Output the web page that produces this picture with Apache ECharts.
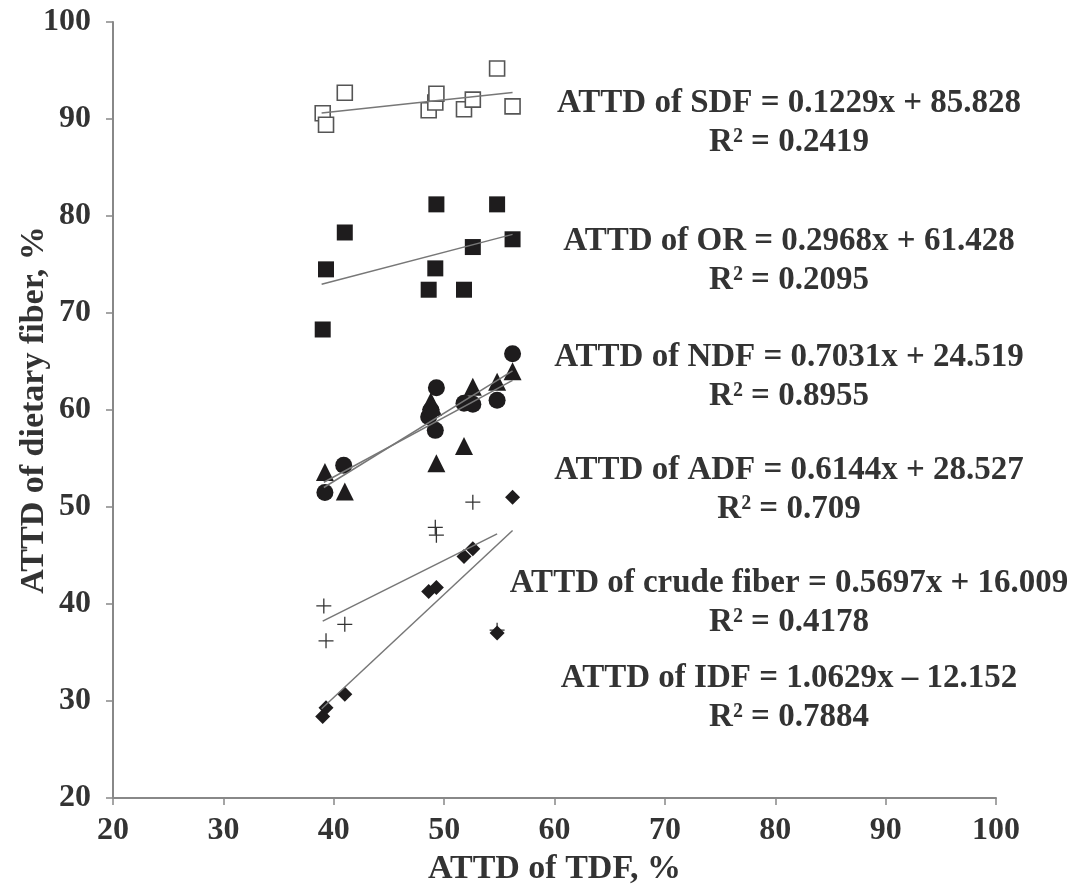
<!DOCTYPE html>
<html>
<head>
<meta charset="utf-8">
<script src="https://cdn.jsdelivr.net/npm/echarts@6/dist/echarts.min.js"></script>
<style>
html,body{margin:0;padding:0;background:#fff;}
#chart{width:1073px;height:892px;}
</style>
</head>
<body>
<div id="chart"></div>
<script>
// ---- data ----
const sdfX = [39.0, 39.3, 41.0, 48.6, 49.2, 49.3, 51.8, 52.6, 54.8, 56.2];
const sdfY = [90.6, 89.4, 92.7, 90.9, 91.7, 92.6, 91.0, 92.0, 95.2, 91.3];
const orX  = [39.0, 39.3, 41.0, 48.6, 49.2, 49.3, 51.8, 52.6, 54.8, 56.2];
const orY  = [68.3, 74.5, 78.3, 72.4, 74.6, 81.2, 72.4, 76.8, 81.2, 77.6];
const ndfX = [39.2, 40.9, 48.6, 48.8, 49.2, 49.3, 51.8, 52.6, 54.8, 56.2];
const ndfY = [51.5, 54.3, 59.3, 60.0, 57.9, 62.3, 60.7, 60.6, 61.0, 65.8];
const adfX = [39.2, 41.0, 48.8, 49.0, 49.3, 51.8, 52.6, 54.8, 56.2];
const adfY = [53.6, 51.6, 60.9, 60.3, 54.5, 56.3, 62.4, 62.9, 64.0];
const cfX  = [39.1, 39.3, 41.0, 49.2, 49.3, 52.6, 54.8];
const cfY  = [39.8, 36.2, 37.9, 47.9, 47.1, 50.5, 37.3];
const idfX = [39.0, 39.3, 41.0, 48.6, 49.3, 51.8, 52.6, 54.8, 56.2];
const idfY = [28.4, 29.3, 30.7, 41.3, 41.7, 44.9, 45.7, 37.0, 51.0];

const seriesNames = ['SDF', 'OR', 'NDF', 'ADF', 'crude fiber', 'IDF'];
const slopes      = [0.1229, 0.2968, 0.7031, 0.6144, 0.5697, 1.0629];
const intercepts  = [85.828, 61.428, 24.519, 28.527, 16.009, -12.152];
const eqTexts = [
  'ATTD of SDF = 0.1229x + 85.828',
  'ATTD of OR = 0.2968x + 61.428',
  'ATTD of NDF = 0.7031x + 24.519',
  'ATTD of ADF = 0.6144x + 28.527',
  'ATTD of crude fiber = 0.5697x + 16.009',
  'ATTD of IDF = 1.0629x \u2013 12.152'
];
const r2Texts = ['0.2419', '0.2095', '0.8955', '0.709', '0.4178', '0.7884'];
const xTicks = [20, 30, 40, 50, 60, 70, 80, 90, 100];
const yTicks = [20, 30, 40, 50, 60, 70, 80, 90, 100];
const xTitle = 'ATTD of TDF, %';
const yTitle = 'ATTD of dietary fiber, %';

// ---- chart ----
const pts = (xs, ys) => xs.map((x, i) => [x, ys[i]]);
const allX = [sdfX, orX, ndfX, adfX, cfX, idfX];
const allY = [sdfY, orY, ndfY, adfY, cfY, idfY];
const FONT = '"Liberation Serif", "Times New Roman", serif';
const TXT = '#333';

const markers = [
  {symbol: 'rect', size: 15, style: {color: '#fff', borderColor: '#555', borderWidth: 1.6, opacity: 1}},
  {symbol: 'rect', size: 16, style: {color: '#1e1c1d', opacity: 1}},
  {symbol: 'circle', size: 17, style: {color: '#1e1c1d', opacity: 1}},
  {symbol: 'triangle', size: 18, style: {color: '#1e1c1d', opacity: 1}},
  {symbol: 'path://M6.4,0h1.2v14h-1.2z M0,6.4h14v1.2h-14z', size: 15, style: {color: '#333', opacity: 1}},
  {symbol: 'diamond', size: 15, style: {color: '#1e1c1d', opacity: 1}}
];

const series = [];
seriesNames.forEach((n, k) => {
  series.push({
    name: n, type: 'scatter',
    data: pts(allX[k], allY[k]),
    symbol: markers[k].symbol, symbolSize: markers[k].size,
    itemStyle: markers[k].style, z: 2
  });
});
seriesNames.forEach((n, k) => {
  const x0 = Math.min(...allX[k]) - 0.1, x1 = Math.max(...allX[k]);
  series.push({
    name: n + ' trend', type: 'line',
    data: [[x0, slopes[k] * x0 + intercepts[k]], [x1, slopes[k] * x1 + intercepts[k]]],
    showSymbol: false, symbol: 'none',
    lineStyle: {color: '#777', width: 1.5}, z: 3, silent: true
  });
});

const eqY = [103, 241, 357, 470, 583, 678];
const texts = [];
eqTexts.forEach((t, k) => {
  texts.push({
    type: 'text', x: 789, y: eqY[k],
    style: {text: t, font: 'bold 33px ' + FONT, fill: TXT, textAlign: 'center', textVerticalAlign: 'middle'}
  });
  texts.push({
    type: 'text', x: 789, y: eqY[k] + 39,
    style: {text: 'R\u00B2 = ' + r2Texts[k], font: 'bold 33px ' + FONT, fill: TXT, textAlign: 'center', textVerticalAlign: 'middle'}
  });
});

const chart = echarts.init(document.getElementById('chart'), null, {renderer: 'canvas'});
chart.setOption({
  backgroundColor: '#fff',
  animation: false,
  grid: {left: 113, right: 77, top: 22, bottom: 94, containLabel: false, outerBoundsMode: 'none'},
  xAxis: {
    type: 'value', min: xTicks[0], max: xTicks[xTicks.length - 1], interval: 10,
    name: xTitle, nameLocation: 'middle', nameGap: 54, nameMoveOverlap: false,
    nameTextStyle: {fontFamily: FONT, fontWeight: 'bold', fontSize: 34, color: TXT},
    axisLine: {show: true, lineStyle: {color: '#888', width: 2}},
    axisTick: {show: true, length: 7, lineStyle: {color: '#888', width: 1.5}},
    axisLabel: {fontFamily: FONT, fontWeight: 'bold', fontSize: 32, color: TXT, margin: 17},
    splitLine: {show: false}
  },
  yAxis: {
    type: 'value', min: yTicks[0], max: yTicks[yTicks.length - 1], interval: 10,
    name: yTitle, nameLocation: 'middle', nameGap: 62, nameMoveOverlap: false,
    nameTextStyle: {fontFamily: FONT, fontWeight: 'bold', fontSize: 34, color: TXT},
    axisLine: {show: true, lineStyle: {color: '#888', width: 2}},
    axisTick: {show: true, length: 7, lineStyle: {color: '#888', width: 1.5}},
    axisLabel: {fontFamily: FONT, fontWeight: 'bold', fontSize: 32, color: TXT, margin: 22},
    splitLine: {show: false}
  },
  series: series,
  graphic: texts
});
</script>
</body>
</html>
